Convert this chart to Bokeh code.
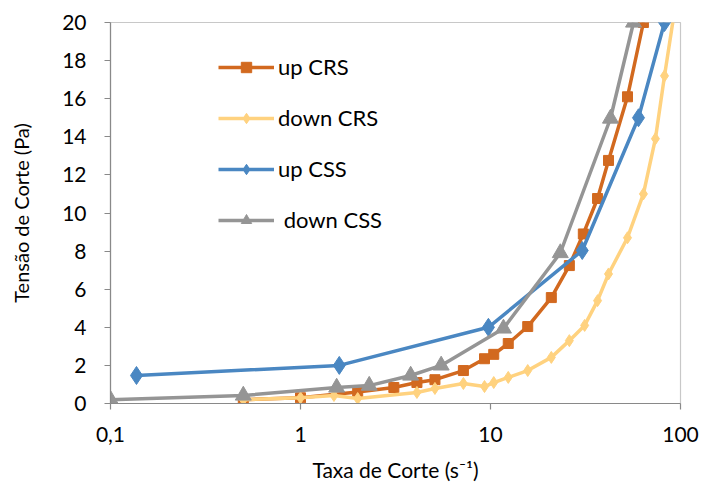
from bokeh.plotting import figure
from bokeh.models import FixedTicker, Legend, LegendItem, Range1d
from bokeh.embed import file_html
from bokeh.resources import INLINE

# ---- data ----
up_crs_x = [0.5, 1.0, 2.0, 3.1, 4.1, 5.1, 7.2, 9.3, 10.4, 12.4, 15.7, 20.9, 26.0, 30.8, 36.6, 41.8, 52.6, 63.8]
up_crs_y = [0.2, 0.3, 0.6, 0.84, 1.1, 1.25, 1.73, 2.35, 2.58, 3.15, 4.04, 5.56, 7.24, 8.9, 10.76, 12.76, 16.1, 20.0]

down_crs_x = [0.5, 1.0, 1.5, 2.0, 4.1, 5.1, 7.2, 9.3, 10.4, 12.4, 15.7, 20.9, 26.0, 31.3, 36.6, 41.8, 52.6, 63.8, 73.8, 82.4, 92.0]
down_crs_y = [0.2, 0.3, 0.42, 0.26, 0.58, 0.79, 1.05, 0.89, 1.1, 1.37, 1.73, 2.42, 3.3, 4.1, 5.4, 6.8, 8.7, 11.0, 13.9, 17.2, 20.3]

up_css_x = [0.137, 1.6, 9.75, 30.4, 60.1, 82.4]
up_css_y = [1.47, 2.0, 4.0, 8.03, 15.0, 20.0]

down_css_x = [0.1, 0.5, 1.55, 2.3, 3.8, 5.5, 11.7, 23.3, 42.8, 56.6]
down_css_y = [0.2, 0.42, 0.84, 0.94, 1.47, 2.0, 3.94, 7.9, 14.96, 20.0]

labels = ["up CRS", "down CRS", "up CSS", " down CSS"]
x_ticks = [0.1, 1, 10, 100]
x_tick_labels = ["0,1", "1", "10", "100"]
y_ticks = [0, 2, 4, 6, 8, 10, 12, 14, 16, 18, 20]

FONT = "Lato"
c_up_crs = "#D2691F"
c_down_crs = "#FFD27F"
c_up_css = "#4A87C2"
c_down_css = "#959595"

p = figure(width=708, height=490, x_axis_type="log",
           x_range=Range1d(0.1, 100), y_range=Range1d(0, 20),
           output_backend="svg", toolbar_location=None,
           min_border_left=110, min_border_right=28,
           min_border_top=22, min_border_bottom=87)

p.grid.visible = False
p.outline_line_color = "#C8C8C8"
p.outline_line_width = 1.2

l1 = p.line(up_crs_x, up_crs_y, line_color=c_up_crs, line_width=3.5)
m1 = p.scatter(up_crs_x, up_crs_y, marker="square", size=10, fill_color=c_up_crs, line_color=c_up_crs)
l2 = p.line(down_crs_x, down_crs_y, line_color=c_down_crs, line_width=3.5)
m2 = p.scatter(down_crs_x[:-1], down_crs_y[:-1], marker="diamond", size=12, fill_color=c_down_crs, line_color=c_down_crs)
l3 = p.line(up_css_x, up_css_y, line_color=c_up_css, line_width=3.5)
m3 = p.scatter(up_css_x, up_css_y, marker="diamond", size=18, fill_color=c_up_css, line_color=c_up_css)
l4 = p.line(down_css_x, down_css_y, line_color=c_down_css, line_width=3.5)
m4 = p.scatter(down_css_x, down_css_y, marker="triangle", size=16, fill_color=c_down_css, line_color=c_down_css)

# axes
p.xaxis.ticker = FixedTicker(ticks=x_ticks, minor_ticks=[])
p.xaxis.major_label_overrides = {t: s for t, s in zip(x_ticks, x_tick_labels)}
p.yaxis.ticker = FixedTicker(ticks=y_ticks, minor_ticks=[])

for ax in (p.xaxis[0], p.yaxis[0]):
    ax.axis_line_color = "#898989"
    ax.axis_line_width = 1.2
    ax.major_tick_line_color = "#898989"
    ax.major_tick_line_width = 1.2
    ax.major_tick_in = 0
    ax.major_tick_out = 6
    ax.minor_tick_line_color = None
    ax.major_label_text_font = FONT
    ax.major_label_text_font_size = "21px"
    ax.major_label_text_color = "#000000"
    ax.axis_label_text_font = FONT
    ax.axis_label_text_font_style = "normal"
    ax.axis_label_text_color = "#000000"

p.xaxis.axis_label = "Taxa de Corte (s⁻¹)"
p.yaxis.axis_label = "Tensão de Corte (Pa)"
p.xaxis.axis_label_text_font_size = "21px"
p.yaxis.axis_label_text_font_size = "20px"
p.xaxis.major_label_standoff = 17
p.xaxis.axis_label_standoff = 12
p.yaxis.major_label_standoff = 18
p.yaxis.axis_label_standoff = 26

legend = Legend(items=[
    LegendItem(label=labels[0], renderers=[l1, m1]),
    LegendItem(label=labels[1], renderers=[l2, m2]),
    LegendItem(label=labels[2], renderers=[l3, m3]),
    LegendItem(label=labels[3], renderers=[l4, m4]),
], location=(108, 170))
legend.background_fill_alpha = 0
legend.border_line_color = None
legend.padding = 0
legend.margin = 0
legend.spacing = 24
legend.glyph_width = 56
legend.glyph_height = 26
legend.label_height = 26
legend.label_standoff = 4
legend.label_text_font = FONT
legend.label_text_font_size = "22px"
legend.label_text_color = "#000000"
p.add_layout(legend)

open("out.html", "w").write(file_html(p, INLINE))
